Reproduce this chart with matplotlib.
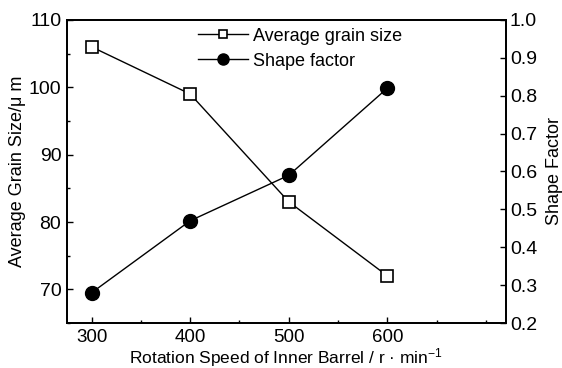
import matplotlib
matplotlib.use("Agg")
import matplotlib.pyplot as plt
from matplotlib.ticker import MultipleLocator

plt.rcParams['font.family'] = ['Liberation Sans', 'DejaVu Sans']
plt.rcParams['mathtext.fontset'] = 'custom'
plt.rcParams['mathtext.rm'] = 'Liberation Sans'
plt.rcParams['mathtext.it'] = 'Liberation Sans'

speed = [300, 400, 500, 600]
grain_size = [106, 99, 83, 72]
shape_factor = [0.28, 0.47, 0.59, 0.82]

fig = plt.figure(figsize=(5.62, 3.68), dpi=100)
ax = fig.add_axes([0.119, 0.122, 0.781, 0.824])
ax2 = ax.twinx()

l1, = ax.plot(speed, grain_size, color='black', lw=1.0, marker='s', ms=8,
              mfc='white', mec='black', mew=1.2, label='Average grain size')
l2, = ax2.plot(speed, shape_factor, color='black', lw=1.0, marker='o', ms=10,
               mfc='black', mec='black', label='Shape factor')

ax.set_xlim(275, 720)
ax.set_ylim(65, 110)
ax2.set_ylim(0.2, 1.0)

ax.set_xticks(speed)
ax.xaxis.set_minor_locator(MultipleLocator(50))
ax.yaxis.set_major_locator(MultipleLocator(10))
ax.yaxis.set_minor_locator(MultipleLocator(5))
ax2.yaxis.set_major_locator(MultipleLocator(0.1))
ax2.yaxis.set_major_formatter(plt.FuncFormatter(lambda v, p: f"{v:.1f}"))

for a in (ax, ax2):
    for s in a.spines.values():
        s.set_linewidth(1.3)
ax.tick_params(axis='x', which='major', direction='in', length=4, width=1.0, labelsize=13.5, top=False, pad=4)
ax.tick_params(axis='y', which='major', direction='in', length=4, width=1.0, labelsize=14, pad=4)
ax.tick_params(axis='both', which='minor', direction='in', length=2.5, width=1.0)
ax2.tick_params(axis='y', which='major', direction='in', length=4, width=1.0, labelsize=14, pad=3)

ax.set_xlabel('Rotation Speed of Inner Barrel / r · min$^{-1}$', fontsize=12.5, labelpad=0.5)
ax.set_ylabel('Average Grain Size/μ m', fontsize=13, labelpad=2)
ax2.set_ylabel('Shape Factor', fontsize=13, labelpad=6)

leg = fig.legend([l1, l2], ['Average grain size', 'Shape factor'], loc='upper left',
                 bbox_to_anchor=(0.352, 0.925), frameon=False, fontsize=13,
                 borderpad=0, borderaxespad=0, markerscale=0.8,
                 handlelength=2.8, handletextpad=0.25, labelspacing=0.45)

fig.savefig('out.png', dpi=100)
